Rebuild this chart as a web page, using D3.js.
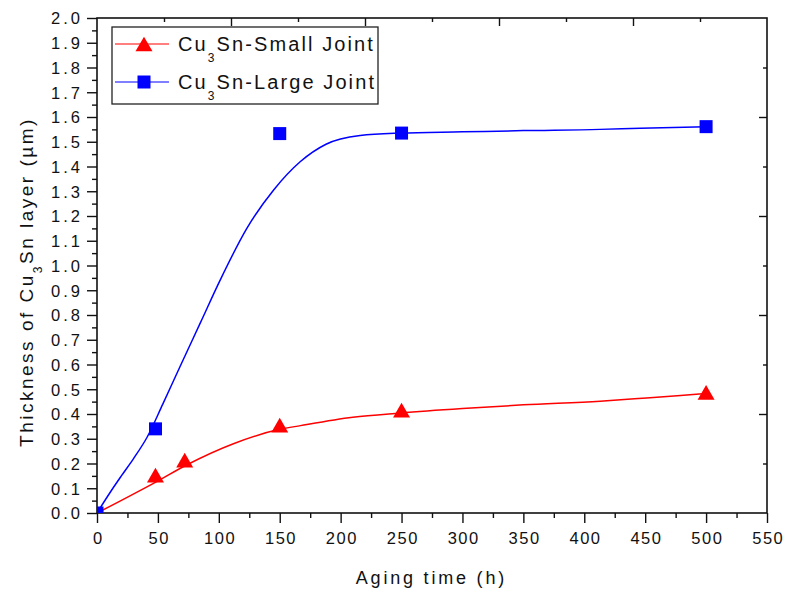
<!DOCTYPE html>
<html>
<head>
<meta charset="utf-8">
<script src="https://cdn.jsdelivr.net/npm/d3@7"></script>
<style>
  body { margin: 0; background: #fff; }
  svg { display: block; }
  text { font-family: "Liberation Sans", Arial, sans-serif; fill: #111; }
</style>
</head>
<body>
<svg id="chart" width="785" height="596"></svg>
<script>
// Measured thickness of the Cu3Sn layer (µm) against aging time (h)
const smallTime  = [0, 48, 72, 150, 250, 500];
const smallThick = [0, 0.153, 0.214, 0.355, 0.416, 0.487];
const largeTime  = [0, 48, 150, 250, 500];
const largeThick = [0, 0.34, 1.533, 1.535, 1.561];

// Fitted growth curves
const smallFitTime  = [0, 49, 73.5, 112, 150, 167, 210, 249, 300, 350, 413, 451, 479, 500];
const smallFitThick = [0, 0.127, 0.194, 0.28, 0.338, 0.353, 0.387, 0.404, 0.422, 0.437, 0.452, 0.465, 0.475, 0.483];
const largeFitTime  = [0, 11, 20, 30, 41, 54, 68, 85, 101, 123, 145, 167, 188, 216, 249, 300, 350, 413, 446, 500];
const largeFitThick = [0, 0.085, 0.15, 0.22, 0.305, 0.44, 0.59, 0.77, 0.94, 1.15, 1.305, 1.42, 1.49, 1.525, 1.535, 1.54, 1.545, 1.55, 1.555, 1.561];

// Axis ticks
const xMajorTicks = d3.range(0, 551, 50);
const xMinorTicks = d3.range(25, 551, 50);
const yMajorTicks = d3.range(0, 21).map(i => i / 10);
const yMinorTicks = d3.range(0, 20).map(i => i / 10 + 0.05);
const topMajorTicks = [110, 220, 330, 440];
const topMinorTicks = [55, 165, 275, 385, 495];
const rightMajorTicks = [0.4, 0.8, 1.2, 1.6];
const rightMinorTicks = [0.2, 0.6, 1.0, 1.4, 1.8];

const seriesNames = ["Small Joint", "Large Joint"];
const xTitle = "Aging time (h)";

const svg = d3.select("#chart");
const L = 97, R = 767, T = 18, B = 513;
const x = d3.scaleLinear().domain([0, 550]).range([L, R]);
const y = d3.scaleLinear().domain([0, 2]).range([B, T]);

svg.append("rect").attr("width", 785).attr("height", 596).attr("fill", "#fff");

const tickFont = 16.5, xLS = 1.5, yLS = 3;

// Bottom axis
const gx = svg.append("g").attr("transform", `translate(0,${B})`)
  .call(d3.axisBottom(x).tickValues(xMajorTicks).tickSize(10).tickFormat(d3.format("d")));
svg.append("g").attr("transform", `translate(0,${B})`)
  .call(d3.axisBottom(x).tickValues(xMinorTicks).tickSize(5).tickFormat(""));
gx.selectAll("text").attr("y", 31).attr("dy", 0).attr("dx", xLS / 2)
  .style("font-size", tickFont + "px").style("letter-spacing", xLS + "px");

// Left axis
const gy = svg.append("g").attr("transform", `translate(${L},0)`)
  .call(d3.axisLeft(y).tickValues(yMajorTicks).tickSize(10).tickFormat(d3.format(".1f")));
svg.append("g").attr("transform", `translate(${L},0)`)
  .call(d3.axisLeft(y).tickValues(yMinorTicks).tickSize(5).tickFormat(""));
gy.selectAll("text").attr("x", -17 + yLS).attr("dy", "0.36em")
  .style("font-size", tickFont + "px").style("letter-spacing", yLS + "px");

// Top and right axes: inward ticks
svg.append("g").attr("transform", `translate(0,${T})`)
  .call(d3.axisTop(x).tickValues(topMajorTicks).tickSize(-8).tickFormat(""));
svg.append("g").attr("transform", `translate(0,${T})`)
  .call(d3.axisTop(x).tickValues(topMinorTicks).tickSize(-4).tickFormat(""));
svg.append("g").attr("transform", `translate(${R},0)`)
  .call(d3.axisRight(y).tickValues(rightMajorTicks).tickSize(-8).tickFormat(""));
svg.append("g").attr("transform", `translate(${R},0)`)
  .call(d3.axisRight(y).tickValues(rightMinorTicks).tickSize(-4).tickFormat(""));

svg.selectAll(".domain").remove();
svg.selectAll(".tick line").attr("stroke", "#111").attr("stroke-width", 1.4);

// Plot frame
svg.append("rect").attr("x", L).attr("y", T).attr("width", R - L).attr("height", B - T)
  .attr("fill", "none").attr("stroke", "#111").attr("stroke-width", 1.6);

// Clip region for the plotted data
svg.append("clipPath").attr("id", "plot-clip")
  .append("rect").attr("x", L).attr("y", T).attr("width", R - L).attr("height", B - T);
const plot = svg.append("g").attr("clip-path", "url(#plot-clip)");

const line = d3.line().x(d => x(d[0])).y(d => y(d[1])).curve(d3.curveMonotoneX);

plot.append("path").datum(d3.zip(smallFitTime, smallFitThick))
  .attr("d", line).attr("fill", "none").attr("stroke", "#ff0000").attr("stroke-width", 1.5);
plot.append("path").datum(d3.zip(largeFitTime, largeFitThick))
  .attr("d", line).attr("fill", "none").attr("stroke", "#0000ff").attr("stroke-width", 1.5);

// Triangle centred on its bounding box
const triBox = {
  draw(ctx, size) {
    const s = Math.sqrt(size * 4 / Math.sqrt(3));
    const h = s * Math.sqrt(3) / 2;
    ctx.moveTo(0, -h / 2);
    ctx.lineTo(s / 2, h / 2);
    ctx.lineTo(-s / 2, h / 2);
    ctx.closePath();
  }
};
const triPath = d3.symbol(triBox, 125)();
const sqPath = d3.symbol(d3.symbolSquare, 169)();

plot.selectAll(".tri").data(d3.zip(smallTime, smallThick)).join("path")
  .attr("class", "tri").attr("d", triPath).attr("fill", "#ff0000")
  .attr("transform", d => `translate(${x(d[0])},${y(d[1])})`);
plot.selectAll(".sq").data(d3.zip(largeTime, largeThick)).join("path")
  .attr("class", "sq").attr("d", sqPath).attr("fill", "#0000ff")
  .attr("transform", d => `translate(${x(d[0])},${y(d[1])})`);

// Axis titles
svg.append("text").attr("x", 430).attr("y", 584).attr("text-anchor", "middle")
  .attr("dx", 1.4).style("font-size", "18px").style("letter-spacing", "2.8px").text(xTitle);

const yt = svg.append("text").attr("transform", "translate(33,282) rotate(-90)")
  .attr("text-anchor", "middle").style("font-size", "19px").style("letter-spacing", "2.5px");
yt.append("tspan").text("Thickness of Cu");
yt.append("tspan").attr("dy", 9).style("font-size", "12px").text("3");
yt.append("tspan").attr("dy", -9).text("Sn layer (\u00b5m)");

// Legend
const lg = svg.append("g");
lg.append("rect").attr("x", 112).attr("y", 27).attr("width", 266).attr("height", 77)
  .attr("fill", "#fff").attr("stroke", "#222").attr("stroke-width", 1.3);
const rows = [
  { name: seriesNames[0], color: "#ff0000", sym: triPath, y: 44 },
  { name: seriesNames[1], color: "#0000ff", sym: sqPath, y: 82 }
];
rows.forEach(r => {
  lg.append("line").attr("x1", 115).attr("x2", 169).attr("y1", r.y).attr("y2", r.y)
    .attr("stroke", r.color).attr("stroke-width", 1.2);
  lg.append("path").attr("d", r.sym).attr("fill", r.color)
    .attr("transform", `translate(144,${r.y})`);
  const t = lg.append("text").attr("x", 178).attr("y", r.y + 7)
    .style("font-size", "20px").style("letter-spacing", "2.1px");
  t.append("tspan").text("Cu");
  t.append("tspan").attr("dy", 11).style("font-size", "12px").text("3");
  t.append("tspan").attr("dy", -11).text("Sn-" + r.name);
});
</script>
</body>
</html>
